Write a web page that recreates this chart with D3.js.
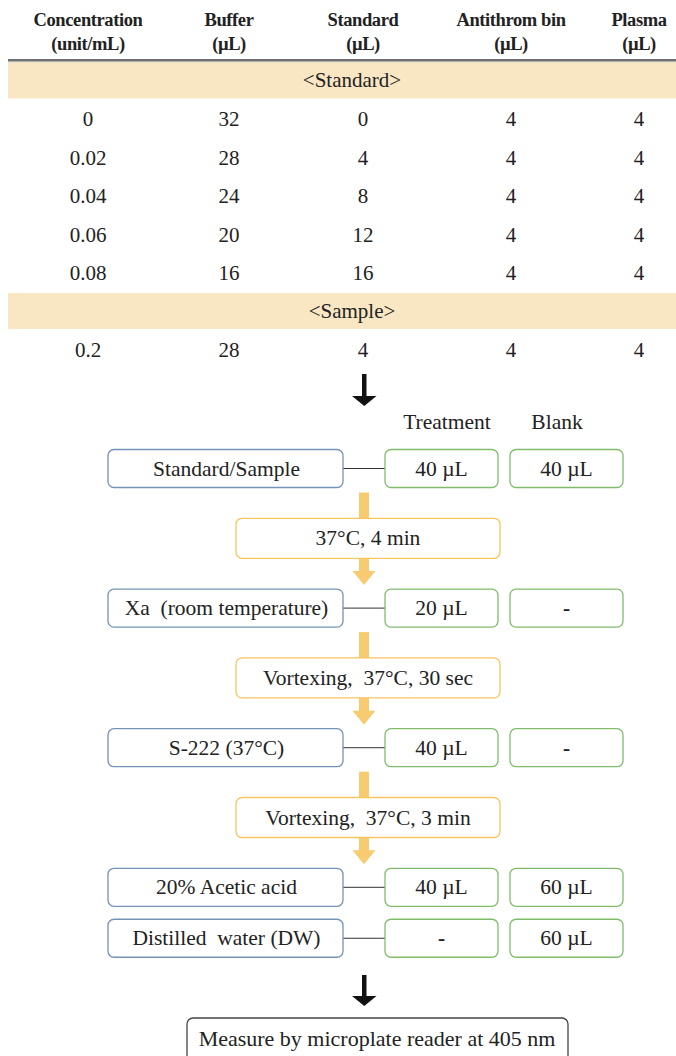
<!DOCTYPE html>
<html>
<head>
<meta charset="utf-8">
<script src="https://cdn.jsdelivr.net/npm/d3@7"></script>
<style>
  body { margin: 0; background: #fff; }
</style>
</head>
<body>
<svg id="chart" width="676" height="1056"></svg>
<script>
// table data
let columns = ["Concentration", "Buffer", "Standard", "Antithrom bin", "Plasma"];
let units = ["(unit/mL)", "(\u00b5L)", "(\u00b5L)", "(\u00b5L)", "(\u00b5L)"];
let standardRows = [
    ["0", "32", "0", "4", "4"],
    ["0.02", "28", "4", "4", "4"],
    ["0.04", "24", "8", "4", "4"],
    ["0.06", "20", "12", "4", "4"],
    ["0.08", "16", "16", "4", "4"]
];
let sampleRows = [
    ["0.2", "28", "4", "4", "4"]
];

// flow data
let stepLabels = ["Standard/Sample", "Xa  (room temperature)", "S-222 (37\u00b0C)", "20% Acetic acid", "Distilled  water (DW)"];
let treatment = ["40 \u00b5L", "20 \u00b5L", "40 \u00b5L", "40 \u00b5L", "-"];
let blank = ["40 \u00b5L", "-", "-", "60 \u00b5L", "60 \u00b5L"];
let conditions = ["37\u00b0C, 4 min", "Vortexing,  37\u00b0C, 30 sec", "Vortexing,  37\u00b0C, 3 min"];
let finalStep = "Measure by microplate reader at 405 nm";

const FONT = "'Liberation Serif', 'DejaVu Serif', serif";
const FS = "21px";   // table body
const FF = "21.5px"; // flow chart

let svg = d3.select("#chart");

function txt(sel) {
    return sel.attr("font-family", FONT).attr("fill", "#222").attr("text-anchor", "middle")
        .style("white-space", "pre");
}

// ---------- table ----------
let xCol = d3.scaleOrdinal().domain(columns).range([88, 229, 363, 511, 639]);
// row slots: 0 = <Standard> band, 1..5 standard rows, 6 = <Sample> band, 7 sample row
let yRow = d3.scaleLinear().domain([0, 7]).range([80, 349]);

let head = svg.append("g");
txt(head.selectAll("text.h1").data(columns).enter().append("text"))
    .attr("x", d => xCol(d)).attr("y", 26)
    .attr("font-weight", "bold").attr("font-size", "18.5px")
    .attr("letter-spacing", "-0.4")
    .text(d => d);
txt(head.selectAll("text.h2").data(units).enter().append("text"))
    .attr("x", (d, i) => xCol(columns[i])).attr("y", 50)
    .attr("font-weight", "bold").attr("font-size", "18.5px")
    .attr("letter-spacing", "-0.4")
    .text(d => d);

svg.append("rect").attr("x", 8).attr("y", 59).attr("width", 668).attr("height", 2.5).attr("fill", "#707070");
svg.append("rect").attr("x", 8).attr("y", 61.5).attr("width", 668).attr("height", 1).attr("fill", "#b0b0b0");

let bands = [{slot: 0, label: "<Standard>"}, {slot: 6, label: "<Sample>"}];
svg.selectAll("rect.band").data(bands).enter().append("rect")
    .attr("x", 8).attr("width", 668)
    .attr("y", d => yRow(d.slot) - 17.5).attr("height", 36)
    .attr("fill", "#f9e7c4");
txt(svg.selectAll("text.band").data(bands).enter().append("text"))
    .attr("x", 352).attr("y", d => yRow(d.slot) + 7)
    .attr("font-size", FS)
    .text(d => d.label);

let bodyRows = standardRows.map((r, i) => ({slot: i + 1, cells: r}))
    .concat(sampleRows.map((r, i) => ({slot: 7 + i, cells: r})));
let rowG = svg.selectAll("g.row").data(bodyRows).enter().append("g")
    .attr("transform", d => `translate(0,${yRow(d.slot) + 8})`);
txt(rowG.selectAll("text").data(d => d.cells).enter().append("text"))
    .attr("x", (d, i) => xCol(columns[i]))
    .attr("font-size", FS)
    .text(d => d);

// ---------- flow ----------
let cx = 364;
let leftBox = {x: 108, w: 235};
let tBox = {x: 385, w: 113};
let bBox = {x: 510, w: 113};
let boxH = 38;
// slot positions for flow rows (half steps are the condition boxes)
let yFlow = d3.scaleLinear().domain([0, 1]).range([468.5, 538.3]);
let stepSlots = [0, 2, 4, 6, 6.73];
let condSlots = [1, 3, 5];

function arrowBlack(y0, y1) {
    svg.append("rect").attr("x", cx - 2).attr("y", y0).attr("width", 4.5).attr("height", y1 - y0 - 8).attr("fill", "#111");
    svg.append("path").attr("d", `M${cx - 12},${y1 - 10}L${cx + 12.5},${y1 - 10}L${cx + 0.25},${y1}Z`).attr("fill", "#111");
}
arrowBlack(374, 406);

txt(svg.append("text")).attr("x", 447).attr("y", 429).attr("font-size", FF).text("Treatment");
txt(svg.append("text")).attr("x", 557).attr("y", 429).attr("font-size", FF).text("Blank");

// yellow arrows between the main steps
let yellow = "#f9cb70";
let stepY = stepSlots.map(s => yFlow(s));
for (let k = 0; k < 3; k++) {
    let yTop = stepY[k] + boxH / 2 + 5;
    let yTip = stepY[k + 1] - boxH / 2 - 4;
    svg.append("rect").attr("x", cx - 5).attr("y", yTop).attr("width", 10).attr("height", yTip - yTop - 12).attr("fill", yellow);
    svg.append("path").attr("d", `M${cx - 11.5},${yTip - 14}L${cx + 11.5},${yTip - 14}L${cx},${yTip}Z`).attr("fill", yellow);
}

// condition boxes
let condY = condSlots.map(s => yFlow(s));
svg.selectAll("rect.cond").data(conditions).enter().append("rect")
    .attr("x", 236).attr("width", 264)
    .attr("y", (d, i) => condY[i] - 20).attr("height", 40)
    .attr("rx", 6).attr("fill", "#fff").attr("stroke", "#f6c55e").attr("stroke-width", 1.3);
txt(svg.selectAll("text.cond").data(conditions).enter().append("text"))
    .attr("x", 368).attr("y", (d, i) => condY[i] + 7)
    .attr("font-size", FF)
    .text(d => d);

// step rows
let steps = stepLabels.map((s, i) => ({label: s, t: treatment[i], b: blank[i], y: stepY[i]}));
let stepG = svg.selectAll("g.step").data(steps).enter().append("g")
    .attr("transform", d => `translate(0,${d.y})`);
stepG.append("line").attr("x1", leftBox.x + leftBox.w).attr("x2", tBox.x).attr("y1", 0).attr("y2", 0)
    .attr("stroke", "#333").attr("stroke-width", 1);
stepG.append("rect").attr("x", leftBox.x).attr("y", -boxH / 2).attr("width", leftBox.w).attr("height", boxH)
    .attr("rx", 6).attr("fill", "#fff").attr("stroke", "#7393b8").attr("stroke-width", 1.3);
stepG.append("rect").attr("x", tBox.x).attr("y", -boxH / 2).attr("width", tBox.w).attr("height", boxH)
    .attr("rx", 6).attr("fill", "#fff").attr("stroke", "#80bd6b").attr("stroke-width", 1.3);
stepG.append("rect").attr("x", bBox.x).attr("y", -boxH / 2).attr("width", bBox.w).attr("height", boxH)
    .attr("rx", 6).attr("fill", "#fff").attr("stroke", "#80bd6b").attr("stroke-width", 1.3);
txt(stepG.append("text")).attr("x", leftBox.x + leftBox.w / 2 + 1).attr("y", 7).attr("font-size", FF).text(d => d.label);
txt(stepG.append("text")).attr("x", tBox.x + tBox.w / 2).attr("y", 7).attr("font-size", FF)
    .attr("font-weight", d => d.t === "-" ? "bold" : "normal").text(d => d.t);
txt(stepG.append("text")).attr("x", bBox.x + bBox.w / 2).attr("y", 7).attr("font-size", FF)
    .attr("font-weight", d => d.b === "-" ? "bold" : "normal").text(d => d.b);

// final
arrowBlack(975, 1006);
svg.append("rect").attr("x", 187).attr("y", 1018).attr("width", 381).attr("height", 50)
    .attr("rx", 6).attr("fill", "#fff").attr("stroke", "#444").attr("stroke-width", 1.3);
txt(svg.append("text")).attr("x", 377).attr("y", 1046).attr("font-size", "22px").text(finalStep);
</script>
</body>
</html>
